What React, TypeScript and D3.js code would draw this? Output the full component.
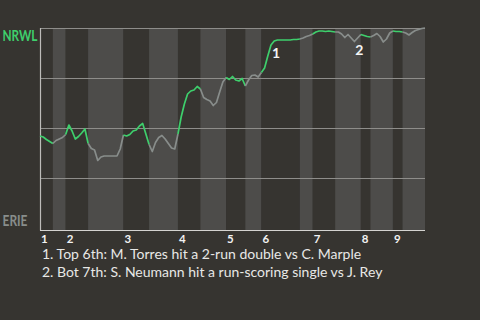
import React from 'react';
import * as d3 from 'd3';

const W = 480;
const H = 320;

const awayTeam = 'NRWL';
const homeTeam = 'ERIE';
const innings = ['1', '2', '3', '4', '5', '6', '7', '8', '9'];
// number of plays in each half-inning: top 1, bot 1, top 2, bot 2, ...
const halfInningPlays = [4, 4, 7, 11, 8, 9, 7, 8, 6, 5, 12, 4, 7, 8, 3, 7, 3, 7];
// NRWL win probability (%) after each play
const winProb = [
  46, 45.5, 44.25, 43.25, 42.25, 43.75, 44.5, 45.25, 46.75, 51.5,
  48.5, 44.5, 45.75, 47.5, 49.5, 42.25, 39.75, 39, 33.75, 35.5,
  36, 36, 36, 36, 36, 39.5, 46.5, 46, 46.75, 48.5,
  49, 51, 52.25, 47, 41.75, 38.25, 42.75, 45.25, 46.25, 44.5,
  42.25, 40, 39.5, 47, 55.5, 62, 67, 68.5, 69, 70.75,
  69.5, 65.25, 64.25, 63.5, 61.25, 62.75, 68, 73, 75.25, 74.25,
  75.75, 74, 73.5, 74.75, 71, 74, 76.25, 76.5, 75.5, 77.75,
  80, 86, 91.5, 93.5, 94, 94, 94, 94, 94, 94.25,
  94.25, 94.5, 95, 95.75, 96.25, 97, 98, 98.5, 98.5, 98.25,
  98.5, 98.25, 98, 98, 97, 95.25, 96.75, 95, 93.25, 95,
  96.75, 96.25, 95.75, 95.5, 96.25, 97.25, 95.75, 93, 94.5, 97.5,
  98.5, 98.25, 98.25, 98, 97.5, 96.5, 97.75, 98.75, 99.25, 99.75,
  100,
];
const eventPlays = [72, 98];
const eventMarks = ['1', '2'];
const eventNotes = [
  '1. Top 6th: M. Torres hit a 2-run double vs C. Marple',
  '2. Bot 7th: S. Neumann hit a run-scoring single vs J. Rey',
];
const gridTicks = [25, 50, 75, 100];

const BG = '#363430';
const BAND_LIGHT = '#4d4c4a';
const GREEN = '#3ecf6c';
const GRAY = '#888d8b';
const FONT = 'Lato, "Open Sans", sans-serif';

export default function App() {
  const left = 40;
  const right = 425;
  const top = 28;
  const bottom = 228;
  const axisY = 230;

  const starts = [0, ...Array.from(d3.cumsum(halfInningPlays))];
  const nPlays = starts[starts.length - 1];
  const x = d3.scaleLinear().domain([0, nPlays]).range([left, right]);
  const y = d3.scaleLinear().domain([0, 100]).range([bottom, top]);

  const segPath = (k: number) => {
    const idx = d3.range(starts[k], starts[k + 1] + 1);
    return d3
      .line<number>()
      .x((i) => x(i))
      .y((i) => y(winProb[i]))(idx) as string;
  };

  return (
    <svg
      width={W}
      height={H}
      style={{ position: 'fixed', left: 0, top: 0, display: 'block' }}
      fontFamily={FONT}
    >
      <rect x={0} y={0} width={W} height={H} fill={BG} />
      {halfInningPlays.map((_, k) => (
        <rect
          key={'b' + k}
          x={x(starts[k])}
          y={top}
          width={x(starts[k + 1]) - x(starts[k])}
          height={axisY - top}
          fill={k % 2 === 0 ? BG : BAND_LIGHT}
        />
      ))}
      {gridTicks.map((t) => (
        <line
          key={'g' + t}
          x1={left}
          x2={right}
          y1={Math.round(y(t)) + 0.5}
          y2={Math.round(y(t)) + 0.5}
          stroke="#8e8d8a"
          strokeWidth={1}
        />
      ))}
      <line x1={left + 0.5} x2={left + 0.5} y1={top} y2={axisY + 0.5} stroke="#bdbcb9" strokeWidth={1.2} />
      <line x1={left} x2={right} y1={axisY + 0.5} y2={axisY + 0.5} stroke="#d4d3d0" strokeWidth={1.2} />
      {halfInningPlays.map((_, k) => (
        <path
          key={'s' + k}
          d={segPath(k)}
          fill="none"
          stroke={k % 2 === 0 ? GREEN : GRAY}
          strokeWidth={1.7}
          strokeLinejoin="round"
        />
      ))}
      {eventPlays.map((p, j) => (
        <text
          key={'e' + j}
          x={x(p) + 5}
          y={y(winProb[p]) + 13}
          textAnchor="middle"
          fontSize={14}
          fontWeight="bold"
          fill="#f4f4f4"
        >
          {eventMarks[j]}
        </text>
      ))}
      {innings.map((lab, j) => (
        <text
          key={'i' + j}
          x={x(starts[2 * j]) + 1}
          y={242.5}
          fontSize={11.5}
          fontWeight="bold"
          fill="#f2f2f2"
        >
          {lab}
        </text>
      ))}
      <text
        x={2.5}
        y={40.5}
        fontSize={15}
        fontWeight="bold"
        fill={GREEN}
        textLength={35}
        lengthAdjust="spacingAndGlyphs"
      >
        {awayTeam}
      </text>
      <text
        x={2.5}
        y={226}
        fontSize={14.5}
        fontWeight="bold"
        fill={GRAY}
        textLength={25}
        lengthAdjust="spacingAndGlyphs"
      >
        {homeTeam}
      </text>
      {eventNotes.map((n, j) => (
        <text key={'n' + j} x={42} y={259 + j * 17.5} fontSize={14} fill="#e8e8e6">
          {n}
        </text>
      ))}
    </svg>
  );
}
